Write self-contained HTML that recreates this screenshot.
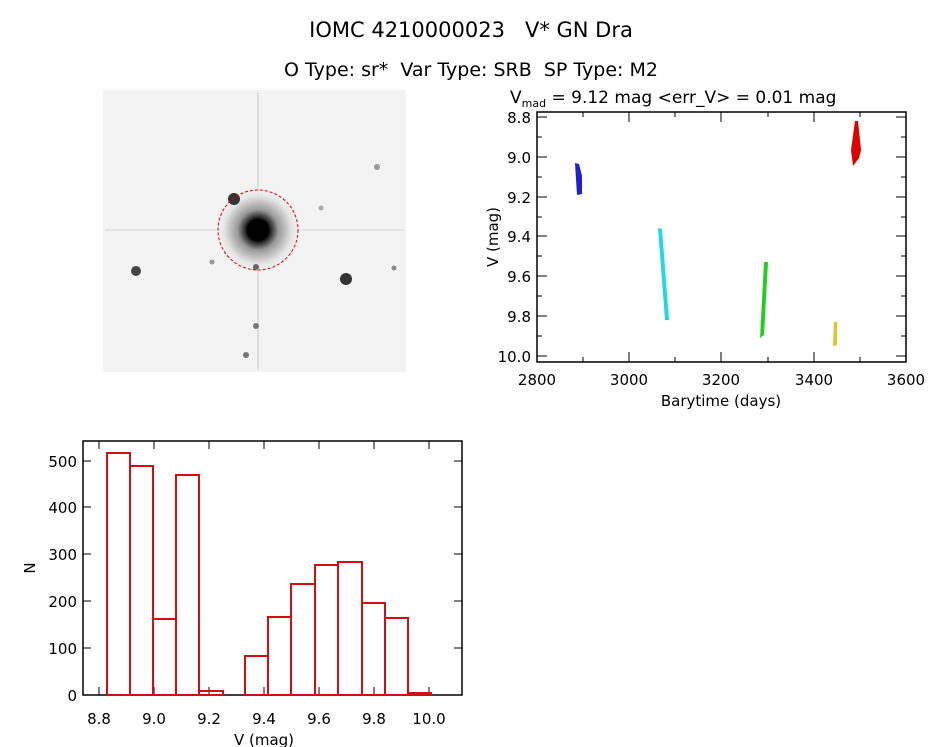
<!DOCTYPE html>
<html><head><style>
body{margin:0;background:#fff;}
svg{display:block;font-family:"DejaVu Sans","Liberation Sans",sans-serif;}
</style></head><body>
<svg width="944" height="747" viewBox="0 0 944 747" xmlns="http://www.w3.org/2000/svg">
<defs>
<radialGradient id="glow" cx="0.5" cy="0.5" r="0.5">
<stop offset="0" stop-color="#000"/><stop offset="0.25" stop-color="#111"/><stop offset="0.45" stop-color="#999"/><stop offset="0.75" stop-color="#e4e4e4"/><stop offset="1" stop-color="#f2f2f2" stop-opacity="0"/>
</radialGradient>
</defs>
<text x="471" y="37" font-size="21" text-anchor="middle">IOMC 4210000023&#160;&#160;&#160;V* GN Dra</text>
<text x="471" y="76" font-size="19" text-anchor="middle">O Type: sr*&#160;&#160;Var Type: SRB&#160;&#160;SP Type: M2</text>
<!-- image -->
<rect x="103" y="90" width="303" height="282" fill="#f3f3f3"/>
<line x1="258" y1="92" x2="258" y2="370" stroke="#d6d6d6" stroke-width="1.5"/>
<line x1="105" y1="230" x2="404" y2="230" stroke="#e0e0e0" stroke-width="1.5"/>
<circle cx="258" cy="230" r="45" fill="url(#glow)"/>
<circle cx="258" cy="230" r="11" fill="#000"/>
<circle cx="234" cy="199" r="6" fill="#333"/>
<circle cx="136" cy="271" r="5" fill="#444"/>
<circle cx="346" cy="279" r="6" fill="#333"/>
<circle cx="256" cy="326" r="3" fill="#777"/>
<circle cx="246" cy="355" r="3" fill="#777"/>
<circle cx="256" cy="267" r="3" fill="#666"/>
<circle cx="377" cy="167" r="3" fill="#999"/>
<circle cx="394" cy="268" r="2.5" fill="#888"/>
<circle cx="321" cy="208" r="2.5" fill="#aaa"/>
<circle cx="212" cy="262" r="2.5" fill="#999"/>
<circle cx="258" cy="230" r="40" fill="none" stroke="#d00" stroke-width="1" stroke-dasharray="3,2"/>
<!-- light curve -->
<g font-size="15">
<text x="510" y="103" font-size="17">V<tspan font-size="11" dy="4">mad</tspan><tspan dy="-4"> = 9.12 mag &lt;err_V&gt; = 0.01 mag</tspan></text>
<rect x="537" y="112" width="369" height="250" fill="none" stroke="#000" stroke-width="1.5"/>
<g stroke="#000" stroke-width="1">
<path d="M583,362v-5M583,112v5M675,362v-5M675,112v5M768,362v-5M768,112v5M860,362v-5M860,112v5M629,362v-10M629,112v10M721,362v-10M721,112v10M814,362v-10M814,112v10M537,117h10M906,117h-10M537,157h10M906,157h-10M537,197h10M906,197h-10M537,236h10M906,236h-10M537,276h10M906,276h-10M537,316h10M906,316h-10M537,356h10M906,356h-10M537,137h5M906,137h-5M537,177h5M906,177h-5M537,217h5M906,217h-5M537,256h5M906,256h-5M537,296h5M906,296h-5M537,336h5M906,336h-5"/>
</g>
<g text-anchor="end"><text x="531" y="123">8.8</text><text x="531" y="163">9.0</text><text x="531" y="203">9.2</text><text x="531" y="242">9.4</text><text x="531" y="282">9.6</text><text x="531" y="322">9.8</text><text x="531" y="362">10.0</text></g>
<g text-anchor="middle"><text x="537" y="385">2800</text><text x="629" y="385">3000</text><text x="721" y="385">3200</text><text x="814" y="385">3400</text><text x="906" y="385">3600</text><text x="721" y="406">Barytime (days)</text></g>
<text transform="translate(498,237) rotate(-90)" text-anchor="middle">V (mag)</text>
<path d="M575,163 L579,164 L582,176 L582,194 L577,195 Z" fill="#2020d0"/>
<path d="M658,228 L662,229 L669,320 L665,320 Z" fill="#20d8e8"/>
<path d="M764,262 L768,262 L764,335 L760,338 Z" fill="#20d020"/>
<path d="M834,322 L837,322 L837,345 L833,346 Z" fill="#e8c020"/>
<path d="M855,121 L858,121 L861,150 L859,158 L853,166 L851,150 Z" fill="#e00000"/>
</g>
<!-- histogram -->
<g font-size="15">
<rect x="83" y="441" width="379" height="254" fill="none" stroke="#000" stroke-width="1.5"/>
<g stroke="#000" stroke-width="1">
<path d="M99,695v-8M154,695v-8M209,695v-8M264,695v-8M319,695v-8M374,695v-8M429,695v-8M99,441v8M154,441v8M209,441v8M264,441v8M319,441v8M374,441v8M429,441v8M83,695h8M462,695h-8M83,648h8M462,648h-8M83,601h8M462,601h-8M83,554h8M462,554h-8M83,507h8M462,507h-8M83,461h8M462,461h-8"/>
</g>
<g fill="none" stroke="#d01010" stroke-width="2">
<rect x="107" y="453" width="23" height="242"/>
<rect x="130" y="466" width="23" height="229"/>
<rect x="153" y="619" width="23" height="76"/>
<rect x="176" y="475" width="23" height="220"/>
<rect x="199" y="691" width="24" height="4"/>
<rect x="245" y="656" width="23" height="39"/>
<rect x="268" y="617" width="23" height="78"/>
<rect x="291" y="584" width="24" height="111"/>
<rect x="315" y="565" width="23" height="130"/>
<rect x="338" y="562" width="24" height="133"/>
<rect x="362" y="603" width="23" height="92"/>
<rect x="385" y="618" width="23" height="77"/>
<rect x="408" y="693" width="23" height="2"/>
</g>
<g text-anchor="end"><text x="77" y="701">0</text><text x="77" y="654">100</text><text x="77" y="607">200</text><text x="77" y="560">300</text><text x="77" y="513">400</text><text x="77" y="467">500</text></g>
<g text-anchor="middle"><text x="99" y="724">8.8</text><text x="154" y="724">9.0</text><text x="209" y="724">9.2</text><text x="264" y="724">9.4</text><text x="319" y="724">9.6</text><text x="374" y="724">9.8</text><text x="429" y="724">10.0</text><text x="264" y="745">V (mag)</text></g>
<text transform="translate(35,568) rotate(-90)" text-anchor="middle">N</text>
</g>
</svg>
</body></html>
